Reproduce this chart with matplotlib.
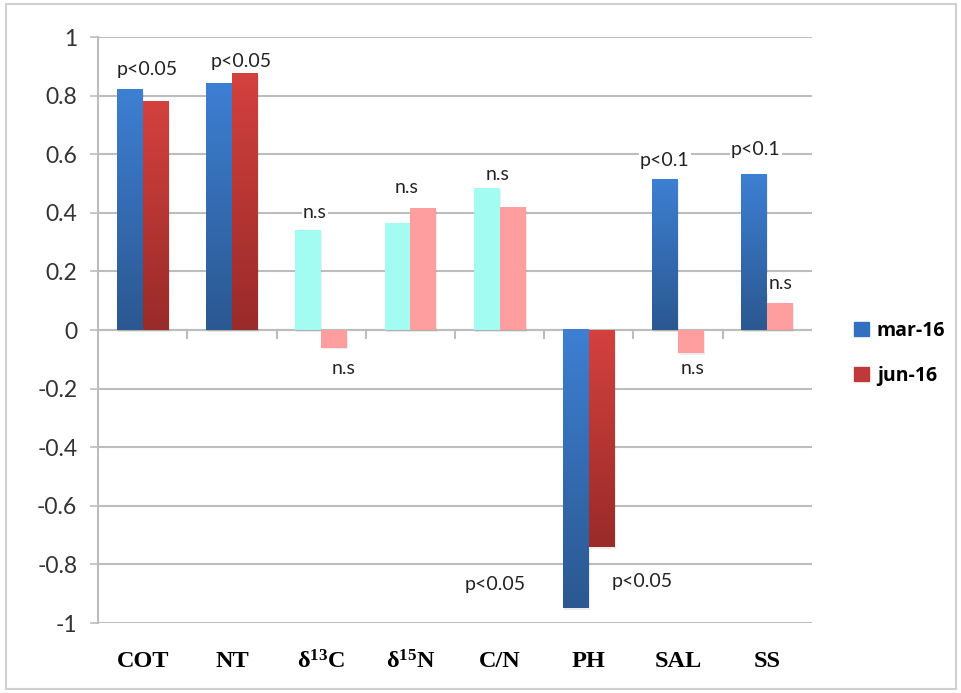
import numpy as np
import matplotlib
matplotlib.use("Agg")
import matplotlib.pyplot as plt
from matplotlib.colors import to_rgb
from matplotlib.patches import Rectangle

categories = ["COT", "NT", "δ$^{13}$C", "δ$^{15}$N", "C/N", "PH", "SAL", "SS"]
series = ["mar-16", "jun-16"]
mar16 = [0.82, 0.84, 0.34, 0.365, 0.485, -0.95, 0.512, 0.53]
jun16 = [0.78, 0.877, -0.06, 0.415, 0.42, -0.74, -0.08, 0.092]
mar_sig = [True, True, False, False, False, True, True, True]
jun_sig = [True, True, False, False, False, True, False, False]

# significance notes: text, category index, x shift (in category units), y value
notes = [
    ("p<0.05", 0, 0.05, 0.89),
    ("p<0.05", 1, 0.10, 0.915),
    ("n.s", 2, -0.07, 0.40),
    ("n.s", 2, 0.25, -0.13),
    ("n.s", 3, -0.04, 0.485),
    ("n.s", 4, -0.02, 0.53),
    ("p<0.05", 4, -0.05, -0.87),
    ("p<0.05", 5, 0.60, -0.86),
    ("p<0.1", 6, -0.15, 0.58),
    ("p<0.1", 7, -0.13, 0.615),
    ("n.s", 7, 0.15, 0.16),
    ("n.s", 6, 0.16, -0.13),
]

plt.rcParams["mathtext.default"] = "regular"

sig_colors = [("#3d7fd2", "#2b5891"), ("#d3413e", "#992b29")]
ns_colors = ["#a3fcf2", "#ff9e9e"]
legend_colors = ["#3370c0", "#c0393a"]

fig = plt.figure(figsize=(9.62, 6.93), dpi=100)
fig.patches.append(Rectangle((0.006, 0.006), 0.988, 0.988, transform=fig.transFigure,
                             fill=False, edgecolor="#d0d0d0", linewidth=1.5))
ax = fig.add_axes([0.102, 0.101, 0.742, 0.8456])

x = np.arange(len(categories))
w = 0.29
ylo, yhi = -1.0, 1.0
for k, (vals, sig) in enumerate([(mar16, mar_sig), (jun16, jun_sig)]):
    offs = (k - 0.5) * w
    bars = ax.bar(x + offs, vals, w, color="none", edgecolor="none", zorder=3)
    for b, s in zip(bars, sig):
        x0, wd = b.get_x(), b.get_width()
        y0, y1 = sorted([b.get_y(), b.get_y() + b.get_height()])
        # faint drop shadow
        ax.add_patch(Rectangle((x0 + 0.012, y0 - 0.006), wd, y1 - y0, color="#000000",
                               alpha=0.07, zorder=2, linewidth=0))
        if s:
            top, bot = np.array(to_rgb(sig_colors[k][0])), np.array(to_rgb(sig_colors[k][1]))
            t = np.linspace(0, 1, 64)[:, None]
            grad = top + (bot - top) * t
            ax.imshow(grad[:, None, :], extent=(x0, x0 + wd, y0, y1), aspect="auto",
                      origin="upper", zorder=3, interpolation="bilinear")
        else:
            ax.add_patch(Rectangle((x0, y0), wd, y1 - y0, facecolor=ns_colors[k],
                                   edgecolor="none", zorder=3))

for txt, ci, dx, yv in notes:
    ax.text(ci + dx, yv, txt, ha="center", va="center", fontsize=14, family="Lato",
            color="#222222", zorder=5,
            bbox=dict(facecolor="white", edgecolor="none", pad=1.0))

ax.set_xlim(-0.5, len(categories) - 0.5)
ax.set_ylim(ylo, yhi)
ax.set_yticks(np.round(np.arange(-1, 1.01, 0.2), 1))
ax.set_yticklabels(["-1", "-0.8", "-0.6", "-0.4", "-0.2", "0", "0.2", "0.4", "0.6", "0.8", "1"],
                   family="Lato", fontsize=16.5, color="#333333")
ax.yaxis.grid(True, color="#bdbdbd", linewidth=1.5, zorder=0)
ax.set_axisbelow(True)
ax.tick_params(axis="y", length=6, width=1.2, color="#bdbdbd", pad=9)

ax.set_xticks(x)
ax.set_xticklabels(categories, family="Liberation Serif", fontweight="bold", fontsize=17.5)
ax.tick_params(axis="x", length=0, pad=20)

for side in ["top", "right", "bottom"]:
    ax.spines[side].set_visible(False)
ax.spines["left"].set_color("#bdbdbd")
ax.spines["left"].set_linewidth(1.5)

# category axis along zero with ticks between categories
ax.axhline(0, color="#bdbdbd", linewidth=1.5, zorder=1)
ax.vlines(x[:-1] + 0.5, -0.03, 0, color="#bdbdbd", linewidth=1.5, zorder=1)

handles = [Rectangle((0, 0), 1, 1, color=c) for c in legend_colors]
leg = ax.legend(handles, series, loc="center left", bbox_to_anchor=(1.035, 0.46),
                frameon=False, handlelength=0.75, handleheight=0.75, labelspacing=1.3,
                handletextpad=0.4, prop=dict(family="Open Sans", weight="bold", size=14))

fig.savefig("out.png", dpi=100)
